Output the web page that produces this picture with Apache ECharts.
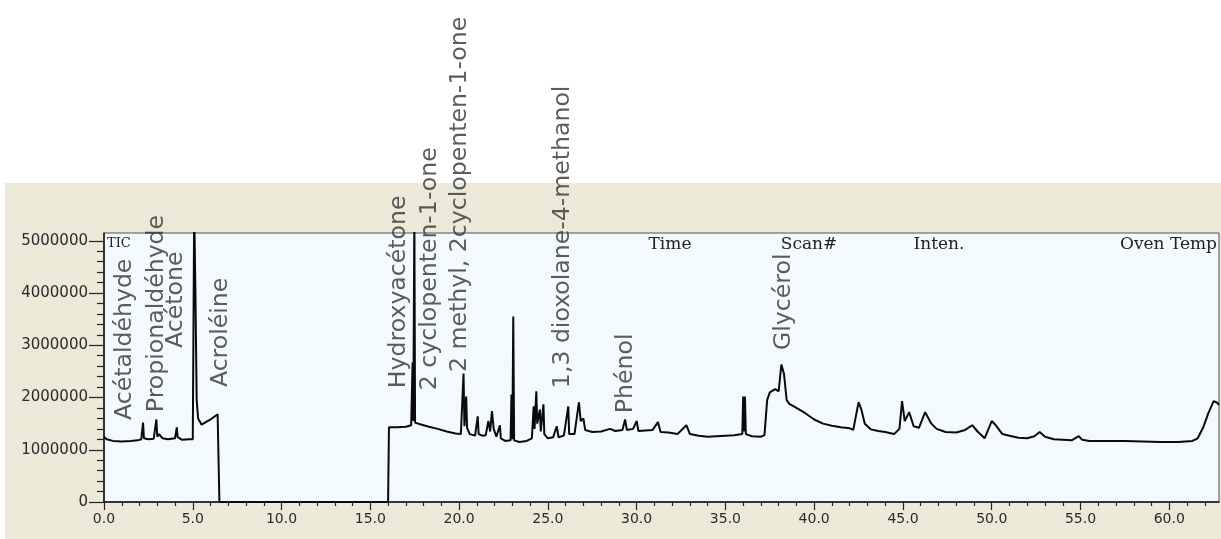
<!DOCTYPE html>
<html>
<head>
<meta charset="utf-8">
<script src="https://cdn.jsdelivr.net/npm/echarts@6/dist/echarts.min.js"></script>
<style>
html,body{margin:0;padding:0;background:#fff;}
#c{width:1221px;height:539px;}
</style>
</head>
<body>
<div id="c"></div>
<script>
// Retention time (min) and TIC intensity
const times = [
  0.00,0.15,0.50,1.00,1.50,1.90,2.10,2.20,2.25,2.50,2.80,2.95,3.00,3.10,3.30,3.60,4.00,4.10,4.15,4.40,4.80,5.00,
  5.08,5.15,5.22,5.30,5.50,6.00,6.40,6.45,6.50,16.00,16.05,16.50,17.00,17.30,17.38,17.42,17.48,17.52,17.80,
  18.30,18.80,19.30,19.80,20.10,20.25,20.30,20.40,20.45,20.60,20.90,21.05,21.10,21.30,21.50,21.65,21.75,21.85,
  21.95,22.10,22.30,22.35,22.60,22.90,22.95,23.00,23.05,23.10,23.40,23.80,24.10,24.20,24.25,24.35,24.40,24.55,
  24.60,24.75,24.80,25.00,25.30,25.50,25.60,25.90,26.15,26.20,26.50,26.75,26.85,27.00,27.10,27.50,28.00,28.50,
  28.80,29.20,29.35,29.45,29.80,30.00,30.10,30.50,30.90,31.20,31.35,31.80,32.30,32.80,33.00,33.50,34.00,34.50,
  35.00,35.50,35.95,36.00,36.05,36.10,36.15,36.50,37.00,37.20,37.35,37.50,37.80,38.00,38.15,38.30,38.45,38.60,
  39.00,39.50,40.00,40.50,41.00,41.50,42.00,42.20,42.50,42.65,42.85,43.20,43.60,44.00,44.50,44.80,44.95,45.10,
  45.35,45.60,45.90,46.25,46.60,46.90,47.40,48.00,48.50,48.90,49.20,49.60,50.00,50.20,50.60,51.00,51.50,52.00,
  52.40,52.70,53.00,53.50,54.00,54.50,54.90,55.10,55.50,56.50,57.50,58.50,59.50,60.50,61.30,61.60,61.90,62.20,
  62.50,62.70,62.80
];
const intensity = [
  1.25e6,1.20e6,1.17e6,1.16e6,1.17e6,1.18e6,1.20e6,1.52e6,1.22e6,1.20e6,1.21e6,1.58e6,1.25e6,1.30e6,1.22e6,1.20e6,1.22e6,1.43e6,1.24e6,1.19e6,1.20e6,1.20e6,
  5.60e6,4.00e6,1.95e6,1.60e6,1.48e6,1.58e6,1.68e6,1.68e6,0,0,1.43e6,1.43e6,1.44e6,1.47e6,2.67e6,1.55e6,5.50e6,1.52e6,1.49e6,
  1.44e6,1.40e6,1.35e6,1.31e6,1.30e6,2.46e6,1.45e6,2.02e6,1.42e6,1.30e6,1.27e6,1.64e6,1.30e6,1.27e6,1.28e6,1.55e6,1.35e6,1.74e6,
  1.40e6,1.25e6,1.47e6,1.22e6,1.17e6,1.18e6,2.06e6,1.20e6,3.55e6,1.18e6,1.15e6,1.17e6,1.22e6,1.83e6,1.40e6,2.12e6,1.50e6,1.77e6,
  1.35e6,1.87e6,1.30e6,1.22e6,1.24e6,1.45e6,1.24e6,1.27e6,1.83e6,1.30e6,1.30e6,1.91e6,1.55e6,1.60e6,1.38e6,1.34e6,1.35e6,1.40e6,
  1.36e6,1.38e6,1.58e6,1.38e6,1.40e6,1.55e6,1.36e6,1.37e6,1.38e6,1.53e6,1.34e6,1.33e6,1.30e6,1.47e6,1.30e6,1.27e6,1.25e6,1.26e6,
  1.27e6,1.28e6,1.30e6,2.02e6,1.35e6,2.02e6,1.30e6,1.26e6,1.25e6,1.28e6,1.95e6,2.10e6,2.16e6,2.12e6,2.63e6,2.45e6,1.95e6,1.88e6,
  1.80e6,1.70e6,1.58e6,1.50e6,1.46e6,1.43e6,1.41e6,1.38e6,1.91e6,1.78e6,1.50e6,1.39e6,1.36e6,1.34e6,1.30e6,1.40e6,1.93e6,1.55e6,
  1.72e6,1.45e6,1.42e6,1.72e6,1.50e6,1.40e6,1.34e6,1.33e6,1.38e6,1.47e6,1.35e6,1.22e6,1.55e6,1.48e6,1.30e6,1.27e6,1.23e6,1.22e6,
  1.26e6,1.34e6,1.25e6,1.20e6,1.19e6,1.18e6,1.26e6,1.19e6,1.17e6,1.17e6,1.17e6,1.16e6,1.15e6,1.15e6,1.17e6,1.22e6,1.42e6,1.70e6,
  1.93e6,1.90e6,1.86e6
];
// Peak annotations: name, retention time, intensity where the label starts
const peakNames = ['Acétaldéhyde','Propionaldéhyde','Acétone','Acroléine','Hydroxyacétone','2 cyclopenten-1-one','2 methyl, 2cyclopenten-1-one','1,3 dioxolane-4-methanol','Phénol','Glycérol'];
const peakTimes = [1.18, 2.99, 4.06, 6.59, 16.62, 18.37, 20.06, 25.86, 29.41, 38.31];
const peakLabelBase = [1.57e6, 1.72e6, 2.95e6, 2.20e6, 2.18e6, 2.14e6, 2.49e6, 2.18e6, 1.70e6, 2.91e6];
// Axis ticks
const xTicks = [0,5,10,15,20,25,30,35,40,45,50,55,60];
const yTicks = [0,1000000,2000000,3000000,4000000,5000000];
// Header captions of the instrument window
const headerTexts = ['TIC','Time','Scan#','Inten.','Oven Temp'];

const trace = times.map((t,i)=>[t,intensity[i]]);
const peaks = peakNames.map((n,i)=>[peakTimes[i], peakLabelBase[i], n]);

const chart = echarts.init(document.getElementById('c'), null, {renderer:'canvas'});
const serif = 'DejaVu Serif';
chart.setOption({
  animation:false,
  backgroundColor:'#ECE9D8',
  grid:{left:104,right:2,top:233,bottom:37,show:true,backgroundColor:'#f3fafd',borderColor:'#505050',borderWidth:1},
  xAxis:{
    type:'value',min:0,max:62.8,interval:5,
    axisLine:{onZero:false,lineStyle:{color:'#111',width:1.5}},
    axisTick:{show:true,length:8,customValues:xTicks,lineStyle:{color:'#222',width:1.2}},
    minorTick:{show:true,splitNumber:5,length:4,lineStyle:{color:'#222',width:1.2}},
    splitLine:{show:false},
    axisLabel:{customValues:xTicks,formatter:v=>v.toFixed(1),fontFamily:'DejaVu Sans',fontSize:14,color:'#2a2a2a',margin:10}
  },
  yAxis:{
    type:'value',min:0,max:5150000,interval:1000000,
    axisLine:{show:true,lineStyle:{color:'#111',width:1.5}},
    axisTick:{show:true,length:15,customValues:yTicks,lineStyle:{color:'#222',width:1.2}},
    minorTick:{show:true,splitNumber:5,length:7,lineStyle:{color:'#222',width:1.2}},
    splitLine:{show:false},
    axisLabel:{customValues:yTicks,formatter:v=>String(v),fontFamily:'DejaVu Sans',fontSize:15,color:'#2a2a2a',margin:16}
  },
  graphic:[
    {type:'rect',z:0,shape:{x:0,y:0,width:1221,height:183},style:{fill:'#ffffff'}},
    {type:'rect',z:0,shape:{x:0,y:183,width:5,height:356},style:{fill:'#ffffff'}},
    {type:'text',z:100,left:107,top:237,style:{text:headerTexts[0],font:'13px '+serif,fill:'#222'}},
    {type:'text',z:100,x:670,y:245,style:{text:headerTexts[1],font:'17px '+serif,fill:'#222',align:'center',verticalAlign:'middle'}},
    {type:'text',z:100,x:809,y:245,style:{text:headerTexts[2],font:'17px '+serif,fill:'#222',align:'center',verticalAlign:'middle'}},
    {type:'text',z:100,x:939,y:245,style:{text:headerTexts[3],font:'17px '+serif,fill:'#222',align:'center',verticalAlign:'middle'}},
    {type:'text',z:100,x:1217,y:245,style:{text:headerTexts[4],font:'17px '+serif,fill:'#222',align:'right',verticalAlign:'middle'}}
  ],
  series:[
    {type:'line',data:trace,showSymbol:false,symbol:'none',clip:true,z:3,
     lineStyle:{color:'#0a0a0a',width:2},silent:true},
    {type:'scatter',data:peaks,symbolSize:0,clip:false,z:10,silent:true,
     label:{show:true,position:'inside',rotate:90,align:'left',verticalAlign:'middle',
            formatter:p=>p.data[2],fontFamily:'DejaVu Sans',fontSize:23.6,color:'#333'}}
  ]
});
</script>
</body>
</html>
